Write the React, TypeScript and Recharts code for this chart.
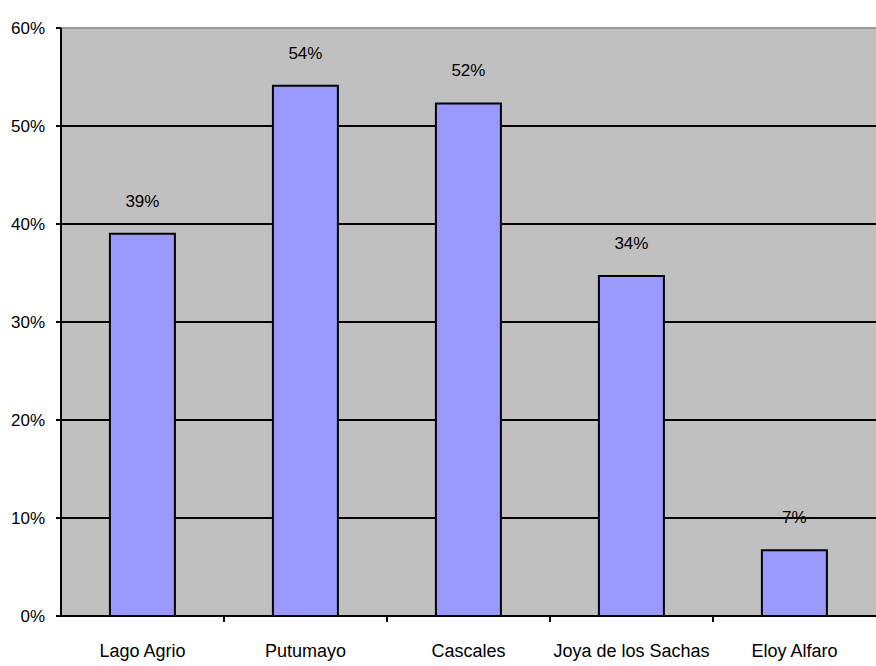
import React from 'react';
import { Bar, BarChart, CartesianGrid, LabelList, ReferenceLine, XAxis, YAxis } from 'recharts';

const categories = ['Lago Agrio', 'Putumayo', 'Cascales', 'Joya de los Sachas', 'Eloy Alfaro'];
const values = [39, 54.1, 52.3, 34.7, 6.7];
const valueLabels = ['39%', '54%', '52%', '34%', '7%'];
const yTicks = [0, 10, 20, 30, 40, 50, 60];
const boundaryTicks = [1, 2, 3, 4];

const data = categories.map((name, i) => ({ name, value: values[i], label: valueLabels[i] }));

const font = '"Liberation Sans", Arial, sans-serif';

export default function App() {
  return (
    <div style={{ position: 'absolute', left: 0, top: 0, width: 876, height: 666, background: '#fff' }}>
      <BarChart
        width={876}
        height={666}
        data={data}
        margin={{ top: 28, right: 0, left: 0, bottom: 0 }}
        barCategoryGap="30%"
      >
        <CartesianGrid vertical={false} stroke="#000" strokeWidth={2} fill="#C0C0C0" fillOpacity={1} />
        {/* numeric axis 0..5 only used to draw tick marks between categories */}
        <XAxis
          xAxisId="bound"
          type="number"
          dataKey="value"
          domain={[0, categories.length]}
          allowDataOverflow
          ticks={boundaryTicks}
          tickFormatter={() => ''}
          tickLine={{ stroke: '#000', strokeWidth: 2 }}
          tickSize={6}
          axisLine={{ stroke: '#000', strokeWidth: 2 }}
          height={1}
        />
        <XAxis
          xAxisId="cat"
          dataKey="name"
          axisLine={false}
          tickLine={false}
          height={49}
          tick={{ fontFamily: font, fontSize: 18, fill: '#000' }}
          dy={19}
        />
        <YAxis
          domain={[0, 60]}
          ticks={yTicks}
          width={61}
          tickFormatter={(v) => `${v}%`}
          axisLine={{ stroke: '#000', strokeWidth: 2 }}
          tickLine={{ stroke: '#000', strokeWidth: 2 }}
          tickSize={5}
          tickMargin={11}
          tick={{ fontFamily: font, fontSize: 17, fill: '#000' }}
        />
        <ReferenceLine y={60} xAxisId="cat" stroke="#999" strokeWidth={2} />
        <Bar
          xAxisId="cat"
          dataKey="value"
          fill="#9999FF"
          stroke="#000"
          strokeWidth={2}
          isAnimationActive={false}
        >
          <LabelList
            dataKey="label"
            position="top"
            offset={27}
            style={{ fontFamily: font, fontSize: 17, fill: '#000' }}
          />
        </Bar>
      </BarChart>
    </div>
  );
}
